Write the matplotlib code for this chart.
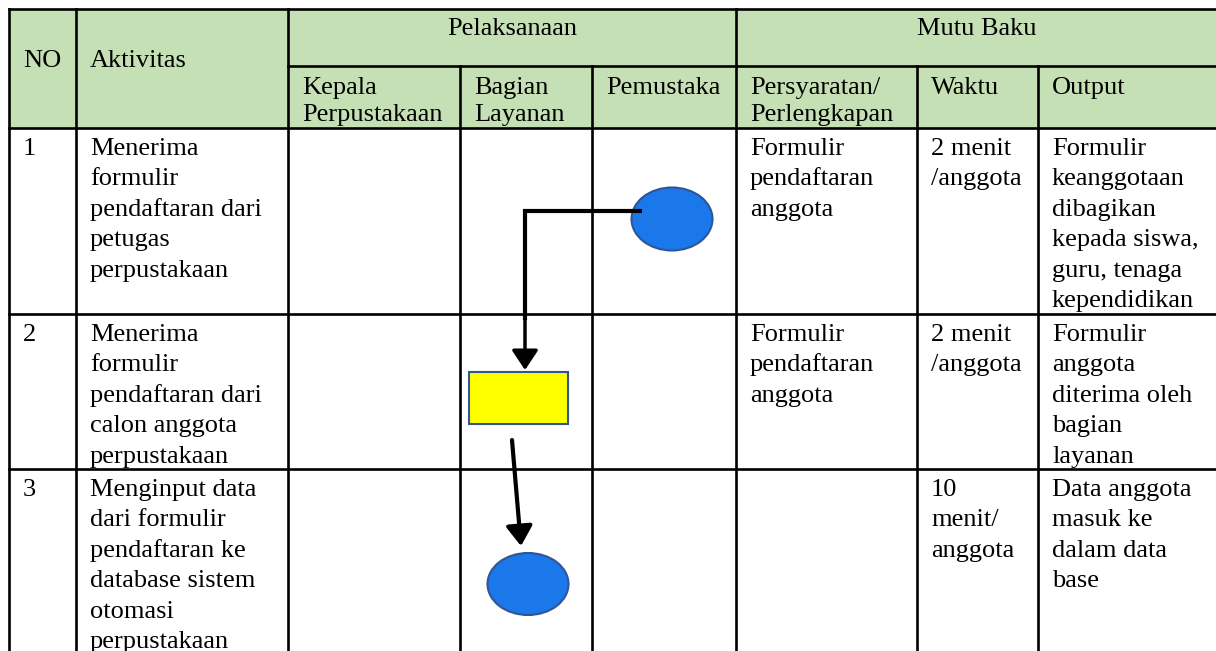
import matplotlib.pyplot as plt
from matplotlib.patches import Rectangle, Ellipse, FancyArrowPatch

# Table content
group_headers = ['Pelaksanaan', 'Mutu Baku']
main_headers = ['NO', 'Aktivitas']
sub_headers = ['Kepala\nPerpustakaan', 'Bagian\nLayanan', 'Pemustaka',
               'Persyaratan/\nPerlengkapan', 'Waktu', 'Output']

nomor = ['1', '2', '3']
aktivitas = [
    'Menerima\nformulir\npendaftaran dari\npetugas\nperpustakaan',
    'Menerima\nformulir\npendaftaran dari\ncalon anggota\nperpustakaan',
    'Menginput data\ndari formulir\npendaftaran ke\ndatabase sistem\notomasi\nperpustakaan',
]
persyaratan = ['Formulir\npendaftaran\nanggota', 'Formulir\npendaftaran\nanggota', '']
waktu = ['2 menit\n/anggota', '2 menit\n/anggota', '10\nmenit/\nanggota']
output = [
    'Formulir\nkeanggotaan\ndibagikan\nkepada siswa,\nguru, tenaga\nkependidikan',
    'Formulir\nanggota\nditerima oleh\nbagian\nlayanan',
    'Data anggota\nmasuk ke\ndalam data\nbase',
]

# Layout (pixel grid)
W, H = 1216, 651
col_x = [9, 76, 288, 460, 592, 736, 917, 1038, 1218]
row_y = [9, 66, 128, 314, 469, H + 5]
pad = 14
step = 30.4
fs = 19
font = 'Liberation Serif'
green = '#C5E0B4'
blue = '#1B78EA'
edge_blue = '#2F5597'
lw = 1.9

fig = plt.figure(figsize=(W / 100, H / 100), dpi=100)
ax = fig.add_axes([0, 0, 1, 1])
ax.set_xlim(0, W)
ax.set_ylim(H, 0)
ax.axis('off')


def put(x, y, txt, ha='left', st=step):
    for i, line in enumerate(txt.split('\n')):
        ax.text(x, y + i * st, line, ha=ha, va='baseline',
                fontsize=fs, family=font, color='black')


# header background
ax.add_patch(Rectangle((col_x[0], row_y[0]), col_x[-1] - col_x[0],
                       row_y[2] - row_y[0], facecolor=green, edgecolor='none'))

# grid lines
ax.plot([col_x[0], col_x[-1]], [row_y[0]] * 2, color='black', lw=lw)
ax.plot([col_x[2], col_x[-1]], [row_y[1]] * 2, color='black', lw=lw)
for y in row_y[2:5]:
    ax.plot([col_x[0], col_x[-1]], [y, y], color='black', lw=lw)
for i, x in enumerate(col_x):
    top = row_y[0] if i in (0, 1, 2, 5, 8) else row_y[1]
    ax.plot([x, x], [top, row_y[-1]], color='black', lw=lw)

# header texts
for i, t in enumerate(main_headers):
    put(col_x[i] + pad, 67, t)
ax.text((col_x[2] + col_x[5]) / 2, 35, group_headers[0], ha='center',
        va='baseline', fontsize=fs, family=font)
ax.text((col_x[5] + col_x[8]) / 2, 35, group_headers[1], ha='center',
        va='baseline', fontsize=fs, family=font)
for i, t in enumerate(sub_headers):
    put(col_x[i + 2] + pad, 94, t, st=27)

# body texts
for r in range(3):
    y0 = row_y[r + 2] + 27
    put(col_x[0] + pad, y0, nomor[r])
    put(col_x[1] + pad, y0, aktivitas[r])
    put(col_x[5] + pad, y0, persyaratan[r])
    put(col_x[6] + pad, y0, waktu[r])
    put(col_x[7] + pad, y0, output[r])

# flowchart symbols
ax.add_patch(Ellipse((672, 219), 81, 63, facecolor=blue, edgecolor=edge_blue, lw=1.5, zorder=3))
ax.add_patch(Rectangle((469, 372), 99, 52, facecolor='#FFFF00', edgecolor=edge_blue, lw=1.5, zorder=3))
ax.add_patch(Ellipse((528, 584), 81, 62, facecolor=blue, edgecolor=edge_blue, lw=1.5, zorder=3))

arrow_style = '-|>,head_length=12,head_width=8'
ax.plot([642, 525, 525], [211, 211, 320], color='black', lw=3,
        solid_joinstyle='miter', solid_capstyle='butt', zorder=4)
ax.add_patch(FancyArrowPatch((525, 300), (525, 370), arrowstyle=arrow_style,
                             mutation_scale=1, shrinkA=0, shrinkB=0,
                             color='black', lw=2.5, zorder=4))
ax.add_patch(FancyArrowPatch((512, 440), (521, 546), arrowstyle=arrow_style,
                             mutation_scale=1, shrinkA=0, shrinkB=0,
                             color='black', lw=3, zorder=4))

fig.savefig('out.png', dpi=100)
